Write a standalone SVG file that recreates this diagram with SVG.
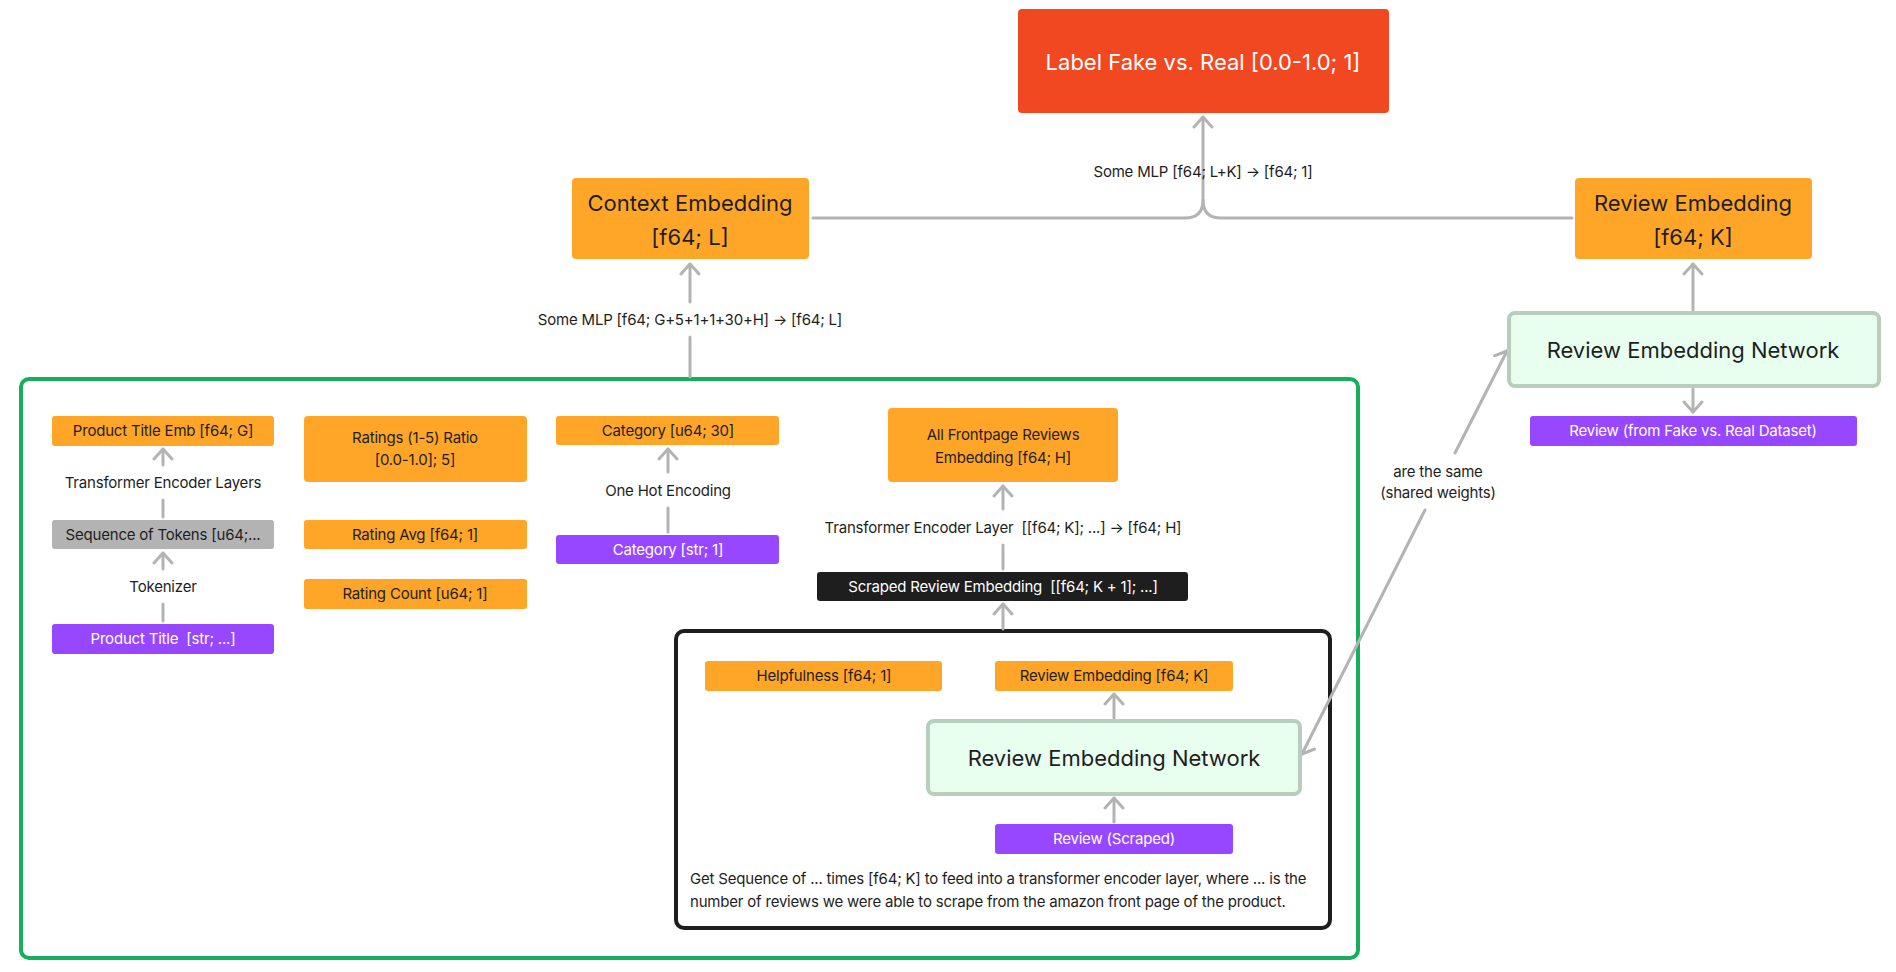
<svg xmlns="http://www.w3.org/2000/svg" width="1896" height="972" viewBox="0 0 1896 972">
<style>
text{font-family:Inter,"Noto Sans","Liberation Sans",sans-serif;fill:#1e1e1e;text-anchor:middle}
.s{font-size:15px;letter-spacing:-0.2px}
.l{font-size:22px}
.w{fill:#fff}
.or{fill:#ffa629}
.pu{fill:#9747ff}
.con{fill:none;stroke:#b3b3b3;stroke-width:3;stroke-linecap:round;stroke-linejoin:round}
</style>
<defs>
<marker id="ah" viewBox="-12 -12 24 24" markerWidth="24" markerHeight="24" refX="0" refY="0" orient="auto" markerUnits="userSpaceOnUse">
<path d="M-10,-9 L0,0 L-10,9" fill="none" stroke="#b3b3b3" stroke-width="3" stroke-linecap="round" stroke-linejoin="round"/>
</marker>
</defs>
<rect width="1896" height="972" fill="#fff"/>

<!-- containers -->
<g id="context-group"><rect x="21" y="379" width="1337" height="579" rx="8" fill="none" stroke="#14ae5c" stroke-width="4"/></g>
<g id="scraped-group"><rect x="676" y="631" width="654" height="297" rx="8" fill="none" stroke="#1e1e1e" stroke-width="4"/>
<text class="s" x="690" y="884" style="text-anchor:start">Get Sequence of ... times [f64; K] to feed into a transformer encoder layer, where ... is the</text>
<text class="s" x="690" y="907" style="text-anchor:start">number of reviews we were able to scrape from the amazon front page of the product.</text>
</g>

<!-- connectors -->
<g id="connectors">
<path class="con" d="M813,218 H1185 Q1203,218 1203,200 V117" marker-end="url(#ah)"/>
<path class="con" d="M1572,218 H1221 Q1203,218 1203,200"/>
<path class="con" d="M690,377 V337"/>
<path class="con" d="M690,302 V264" marker-end="url(#ah)"/>
<path class="con" d="M163,621 V604"/>
<path class="con" d="M163,569 V553" marker-end="url(#ah)"/>
<path class="con" d="M163,517 V500"/>
<path class="con" d="M163,465 V449" marker-end="url(#ah)"/>
<path class="con" d="M668,532 V508"/>
<path class="con" d="M668,472 V449" marker-end="url(#ah)"/>
<path class="con" d="M1003,569 V545"/>
<path class="con" d="M1003,509 V486" marker-end="url(#ah)"/>
<path class="con" d="M1003,629 V604" marker-end="url(#ah)"/>
<path class="con" d="M1114,718 V694" marker-end="url(#ah)"/>
<path class="con" d="M1114,822 V798" marker-end="url(#ah)"/>
<path class="con" d="M1693,310 V264" marker-end="url(#ah)"/>
<path class="con" d="M1693,389 V412" marker-end="url(#ah)"/>
<path class="con" d="M1455,453 L1507,351" marker-end="url(#ah)"/>
<path class="con" d="M1425,510 L1302,754" marker-end="url(#ah)"/>
<text class="s" x="1203" y="177">Some MLP [f64; L+K] → [f64; 1]</text>
<text class="s" x="690" y="325">Some MLP [f64; G+5+1+1+30+H] → [f64; L]</text>
<text class="s" x="163" y="488">Transformer Encoder Layers</text>
<text class="s" x="163" y="592">Tokenizer</text>
<text class="s" x="668" y="496">One Hot Encoding</text>
<text class="s" x="1003" y="533" xml:space="preserve">Transformer Encoder Layer  [[f64; K]; ...] → [f64; H]</text>
<text class="s" x="1438" y="477">are the same</text>
<text class="s" x="1438" y="498">(shared weights)</text>
</g>

<!-- nodes -->
<g id="label"><rect x="1018" y="9" width="371" height="104" rx="4" fill="#f24822"/><text class="l w" x="1203" y="70">Label Fake vs. Real [0.0-1.0; 1]</text></g>
<g id="context-embedding"><rect x="572" y="178" width="237" height="81" rx="4" class="or"/><text class="l" x="690" y="211">Context Embedding</text><text class="l" x="690" y="245">[f64; L]</text></g>
<g id="review-embedding"><rect x="1575" y="178" width="237" height="81" rx="4" class="or"/><text class="l" x="1693" y="211">Review Embedding</text><text class="l" x="1693" y="245">[f64; K]</text></g>
<g id="ren-outer"><rect x="1509" y="313" width="370" height="73" rx="6" fill="#e8fff0" stroke="#b7cdbe" stroke-width="4"/><text class="l" x="1693" y="358">Review Embedding Network</text></g>
<g id="review-dataset"><rect x="1530" y="416" width="327" height="30" rx="3" class="pu"/><text class="s w" x="1693" y="436">Review (from Fake vs. Real Dataset)</text></g>

<g id="product-title-emb"><rect x="52" y="416" width="222" height="30" rx="3" class="or"/><text class="s" x="163" y="436">Product Title Emb [f64; G]</text></g>
<g id="seq-tokens"><rect x="52" y="520" width="222" height="29" rx="3" fill="#b3b3b3"/><text class="s" x="163" y="540">Sequence of Tokens [u64;...</text></g>
<g id="product-title"><rect x="52" y="624" width="222" height="30" rx="3" class="pu"/><text class="s w" x="163" y="644" xml:space="preserve">Product Title  [str; ...]</text></g>

<g id="ratings-ratio"><rect x="304" y="416" width="223" height="66" rx="4" class="or"/><text class="s" x="415" y="443">Ratings (1-5) Ratio</text><text class="s" x="415" y="465">[0.0-1.0]; 5]</text></g>
<g id="rating-avg"><rect x="304" y="520" width="223" height="29" rx="3" class="or"/><text class="s" x="415" y="540">Rating Avg [f64; 1]</text></g>
<g id="rating-count"><rect x="304" y="579" width="223" height="30" rx="3" class="or"/><text class="s" x="415" y="599">Rating Count [u64; 1]</text></g>

<g id="category-u64"><rect x="556" y="416" width="223" height="29" rx="3" class="or"/><text class="s" x="668" y="436">Category [u64; 30]</text></g>
<g id="category-str"><rect x="556" y="535" width="223" height="29" rx="3" class="pu"/><text class="s w" x="668" y="555">Category [str; 1]</text></g>

<g id="all-frontpage"><rect x="888" y="408" width="230" height="74" rx="4" class="or"/><text class="s" x="1003" y="440">All Frontpage Reviews</text><text class="s" x="1003" y="463">Embedding [f64; H]</text></g>
<g id="scraped-review-emb"><rect x="817" y="572" width="371" height="29" rx="3" fill="#1e1e1e"/><text class="s w" x="1003" y="592" xml:space="preserve">Scraped Review Embedding  [[f64; K + 1]; ...]</text></g>

<g id="helpfulness"><rect x="705" y="661" width="237" height="30" rx="3" class="or"/><text class="s" x="824" y="681">Helpfulness [f64; 1]</text></g>
<g id="review-emb-k"><rect x="995" y="661" width="238" height="30" rx="3" class="or"/><text class="s" x="1114" y="681">Review Embedding [f64; K]</text></g>
<g id="ren-inner"><rect x="928" y="721" width="372" height="73" rx="6" fill="#e8fff0" stroke="#b7cdbe" stroke-width="4"/><text class="l" x="1114" y="766">Review Embedding Network</text></g>
<g id="review-scraped"><rect x="995" y="824" width="238" height="30" rx="3" class="pu"/><text class="s w" x="1114" y="844">Review (Scraped)</text></g>
</svg>
